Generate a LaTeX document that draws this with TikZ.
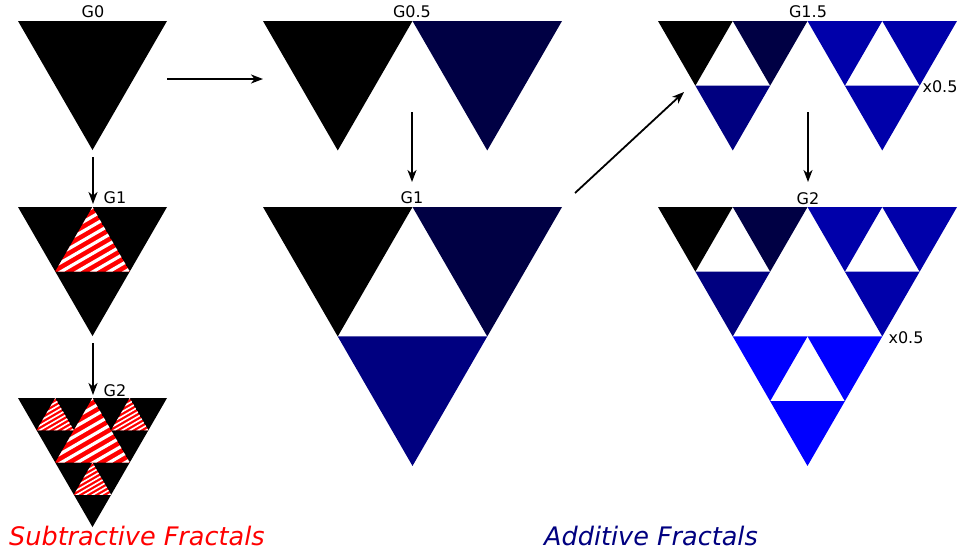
\documentclass[tikz,border=0pt]{standalone}
\usepackage{fontspec}
\setmainfont{DejaVu Sans}
\usetikzlibrary{arrows.meta}
\definecolor{cA}{RGB}{0,0,68}
\definecolor{cB}{RGB}{0,0,128}
\definecolor{cC}{RGB}{0,0,170}
\definecolor{cD}{RGB}{0,0,255}
\definecolor{cRed}{RGB}{255,0,0}
% down triangle: x left, y top, side, colour
\newcommand\dtri[4]{\fill[#4] (#1,#2) -- ({#1+#3},#2) -- ({#1+#3/2},{#2+0.8660254*#3}) -- cycle;}
% three-part Sierpinski: x left, y top, half side, colours
\newcommand\sierp[6]{%
  \dtri{#1}{#2}{#3}{#4}%
  \dtri{#1+#3}{#2}{#3}{#5}%
  \dtri{#1+#3/2}{#2+0.8660254*#3}{#3}{#6}}
% hatched red up triangle: apex x, apex y, side, stripe spacing
\newcommand\redtri[4]{%
  \begin{scope}
    \clip (#1,#2) -- ({#1-#3/2},{#2+0.8660254*#3}) -- ({#1+#3/2},{#2+0.8660254*#3}) -- cycle;
    \fill[cRed] (#1,#2) -- ({#1-#3/2},{#2+0.8660254*#3}) -- ({#1+#3/2},{#2+0.8660254*#3}) -- cycle;
    \foreach \k in {-14,...,14}{
      \pgfmathsetmacro\ox{#1+\k*#4*0.5}
      \pgfmathsetmacro\oy{#2+0.5*#3+\k*#4*0.8660254}
      \draw[white,line width={0.4*#4}] ({\ox-0.866*#3},{\oy+0.5*#3}) -- ({\ox+0.866*#3},{\oy-0.5*#3});
    }
  \end{scope}}
\tikzset{
  lab/.style={inner sep=0pt, font=\fontsize{16}{19}\selectfont},
  title/.style={inner sep=0pt, font=\fontsize{25.5}{30}\selectfont\itshape, anchor=west},
  conn/.style={line width=1.8pt, -{Stealth[length=12pt,width=9pt,inset=3.5pt]}}
}
\begin{document}
\begin{tikzpicture}[x=1pt,y=-1pt]
\useasboundingbox (0,0) rectangle (960,550);
% ---- subtractive ----
\dtri{18}{21}{149}{black}
\dtri{18}{207}{149}{black}
\redtri{92.5}{207}{74.5}{8}
\dtri{18}{398}{149}{black}
\redtri{92.5}{398}{74.5}{8}
\redtri{55.25}{398}{37.25}{4}
\redtri{129.75}{398}{37.25}{4}
\redtri{92.5}{462.5}{37.25}{4}
% ---- additive ----
\dtri{263}{21}{149.5}{black}
\dtri{412.5}{21}{149.5}{cA}
\sierp{263}{207}{149.5}{black}{cA}{cB}
\sierp{658}{21}{74.75}{black}{cA}{cB}
\sierp{807.5}{21}{74.75}{cC}{cC}{cC}
\sierp{658}{207}{74.75}{black}{cA}{cB}
\sierp{807.5}{207}{74.75}{cC}{cC}{cC}
\sierp{732.75}{336.46}{74.75}{cD}{cD}{cD}
% ---- labels ----
\node[lab] (g0) at (93,11.5) {G0};
\node[lab] (g1s) at (115,197.5) {G1};
\node[lab] (g2s) at (115,390.5) {G2};
\node[lab] (g05) at (412,11.5) {G0.5};
\node[lab] (g1a) at (412,197.5) {G1};
\node[lab] (g15) at (808,11.5) {G1.5};
\node[lab] (g2a) at (808,198.5) {G2};
\node[lab] (x1) at (940,87) {x0.5};
\node[lab] (x2) at (906,337.5) {x0.5};
\node[title, text=cRed] (ts) at (9,536) {Subtractive Fractals};
\node[title, text=cB] (ta) at (544,536) {Additive Fractals};
% ---- connectors ----
\coordinate (a1s) at (93,157); \coordinate (a1e) at (93,204);
\coordinate (a2s) at (93,343); \coordinate (a2e) at (93,395);
\coordinate (a3s) at (167,79); \coordinate (a3e) at (263,79);
\coordinate (a4s) at (412,112); \coordinate (a4e) at (412,182);
\coordinate (a5s) at (575,193); \coordinate (a5e) at (684,92);
\coordinate (a6s) at (808,112); \coordinate (a6e) at (808,182);
\draw[conn] (a1s) -- (a1e);
\draw[conn] (a2s) -- (a2e);
\draw[conn] (a3s) -- (a3e);
\draw[conn] (a4s) -- (a4e);
\draw[conn] (a5s) -- (a5e);
\draw[conn] (a6s) -- (a6e);
\end{tikzpicture}
\end{document}
